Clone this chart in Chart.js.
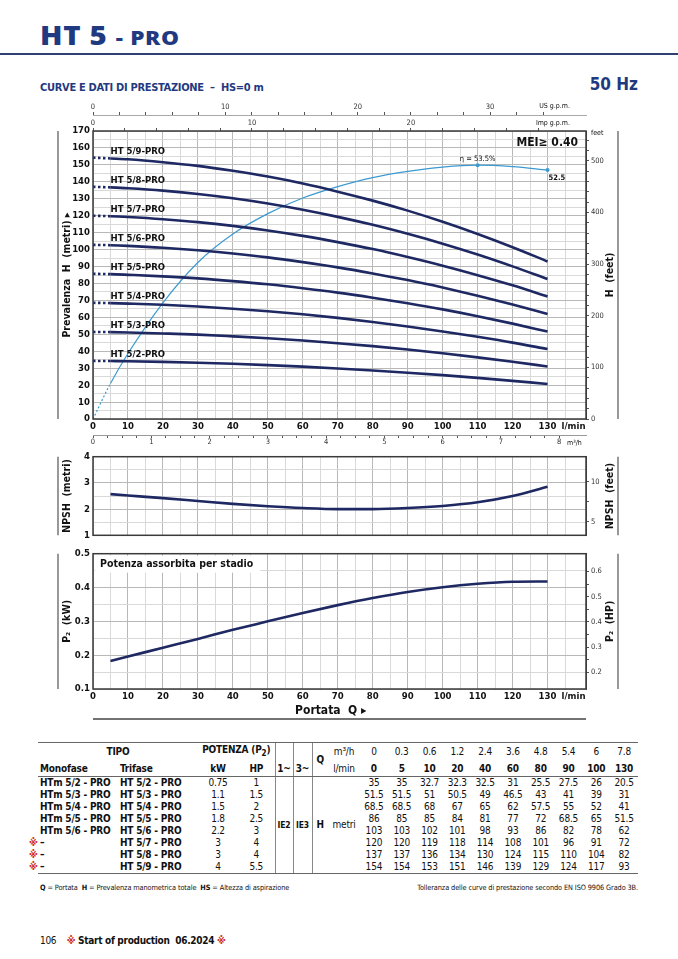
<!DOCTYPE html>
<html>
<head>
<meta charset="utf-8">
<script src="https://cdn.jsdelivr.net/npm/chart.js@4.4.0/dist/chart.umd.min.js"></script>
<style>
  body { margin: 0; width: 678px; height: 959px; background: #fff; position: relative; overflow: hidden;
         font-family: "DejaVu Sans Condensed", "Liberation Sans", sans-serif; color: #111; }
  .abs { position: absolute; }
  canvas { position: absolute; left: 0; }
  #title { left: 40px; top: 17px; color: #1f3a80; font: 800 26px "Open Sans", sans-serif; letter-spacing: 0.6px;
           transform: scaleX(1.13); transform-origin: left top; white-space: nowrap; }
  #title span { font-size: 20px; letter-spacing: 0.6px; }
  #rule { left: 0; top: 53px; width: 678px; height: 2px; background: #2f3f73; }
  #sub { left: 40px; top: 81px; color: #1f3a80; font-weight: bold; font-size: 11px; letter-spacing: -0.3px; }
  #hz { right: 40px; top: 74px; color: #1f3a80; font-weight: bold; font-size: 17px; }
  #tab { position: absolute; left: 38px; top: 742px; border-collapse: collapse; table-layout: fixed;
         font-size: 10px; letter-spacing: -0.2px; }
  #tab td, #tab th { padding: 0; height: 12px; line-height: 12px; text-align: center; white-space: nowrap; }
  #tab th { font-weight: bold; }
  #tab .l { text-align: left; padding-left: 2px; }
  #tab .b { font-weight: bold; }
  #tab tr.top td, #tab tr.top th { border-top: 1px solid #666; height: 14px; line-height: 14px; }
  #tab tr.sub td, #tab tr.sub th { border-bottom: 1px solid #666; height: 15px; line-height: 15px; }
  #tab tr.last td { border-bottom: 1px solid #666; }
  #tab .vl { border-left: 1px solid #888; }
  #tab .ast { position: relative; }
  #tab .ast i { position: absolute; left: -9px; top: 0; color: #d0302a; font-style: normal; }
  .note { font-size: 7.3px; top: 883px; letter-spacing: -0.1px; }
  #foot { left: 40px; top: 935px; font-size: 10px; letter-spacing: -0.3px; }
  #foot b { margin-left: 8px; }
  #foot em { color: #d0302a; font-style: normal; }
</style>
</head>
<body>
<div id="title" class="abs">HT 5 <span>- PRO</span></div>
<div id="rule" class="abs"></div>
<div id="sub" class="abs">CURVE E DATI DI PRESTAZIONE &nbsp;– &nbsp;HS=0 m</div>
<div id="hz" class="abs">50 Hz</div>

<canvas id="cMain" width="678" height="360" style="top:95px"></canvas>
<canvas id="cNpsh" width="678" height="96" style="top:448px"></canvas>
<canvas id="cPow" width="678" height="180" style="top:545px"></canvas>

<table id="tab"></table>
<div class="abs note" style="left:40px"><b>Q</b> = Portata &nbsp;<b>H</b> = Prevalenza manometrica totale &nbsp;<b>HS</b> = Altezza di aspirazione</div>
<div class="abs note" style="right:40px">Tolleranza delle curve di prestazione secondo EN ISO 9906 Grado 3B.</div>
<div id="foot" class="abs">106 <b><em>※</em> Start of production &nbsp;06.2024 <em>※</em></b></div>

<script>
// table flow points
var flowQ  = [0, 5, 10, 20, 40, 60, 80, 90, 100, 130];        // l/min
var flowM3 = [0, 0.3, 0.6, 1.2, 2.4, 3.6, 4.8, 5.4, 6, 7.8];   // m3/h

var models = ['HT 5/2-PRO', 'HT 5/3-PRO', 'HT 5/4-PRO', 'HT 5/5-PRO', 'HT 5/6-PRO', 'HT 5/7-PRO', 'HT 5/8-PRO', 'HT 5/9-PRO'];

// head (m) as printed in the table
var t52 = [35, 35, 32.7, 32.3, 32.5, 31, 25.5, 27.5, 26, 20.5];
var t53 = [51.5, 51.5, 51, 50.5, 49, 46.5, 43, 41, 39, 31];
var t54 = [68.5, 68.5, 68, 67, 65, 62, 57.5, 55, 52, 41];
var t55 = [86, 85, 85, 84, 81, 77, 72, 68.5, 65, 51.5];
var t56 = [103, 103, 102, 101, 98, 93, 86, 82, 78, 62];
var t57 = [120, 120, 119, 118, 114, 108, 101, 96, 91, 72];
var t58 = [137, 137, 136, 134, 130, 124, 115, 110, 104, 82];
var t59 = [154, 154, 153, 151, 146, 139, 129, 124, 117, 93];

// head curves (m) as drawn on the chart
var curveQ = [0, 5, 10, 20, 30, 40, 50, 60, 70, 80, 90, 100, 110, 120, 130];
var h52 = [34.3, 34.2, 34.1, 33.7, 33.2, 32.6, 31.8, 30.9, 29.8, 28.6, 27.3, 25.9, 24.3, 22.5, 20.7];
var h53 = [51.4, 51.3, 51.1, 50.5, 49.8, 48.8, 47.7, 46.3, 44.7, 43.0, 41.0, 38.8, 36.4, 33.8, 31.0];
var h54 = [68.6, 68.4, 68.1, 67.4, 66.4, 65.1, 63.6, 61.8, 59.7, 57.3, 54.6, 51.7, 48.5, 45.1, 41.3];
var h55 = [85.7, 85.5, 85.1, 84.2, 83.0, 81.4, 79.5, 77.2, 74.6, 71.6, 68.3, 64.7, 60.7, 56.3, 51.6];
var h56 = [102.8, 102.6, 102.2, 101.1, 99.6, 97.7, 95.4, 92.6, 89.5, 85.9, 82.0, 77.6, 72.8, 67.6, 62.0];
var h57 = [120.0, 119.7, 119.2, 117.9, 116.2, 114.0, 111.3, 108.1, 104.4, 100.3, 95.6, 90.5, 84.9, 78.9, 72.3];
var h58 = [137.1, 136.7, 136.2, 134.8, 132.8, 130.3, 127.2, 123.5, 119.3, 114.6, 109.3, 103.5, 97.1, 90.1, 82.6];
var h59 = [154.3, 153.8, 153.3, 151.6, 149.4, 146.5, 143.1, 139.0, 134.2, 128.9, 123.0, 116.4, 109.2, 101.4, 93.0];

// efficiency (%)
var effQ = [0, 5, 10, 20, 30, 40, 50, 60, 70, 80, 90, 100, 110, 120, 130];
var eff  = [0, 7.5, 13.8, 24.5, 33, 39, 43.3, 46.6, 49, 50.9, 52.2, 53.1, 53.5, 53.2, 52.5];

// NPSH (m)
var npshQ = [5, 10, 20, 30, 40, 50, 60, 70, 80, 90, 100, 110, 120, 130];
var npsh  = [2.57, 2.52, 2.42, 2.31, 2.2, 2.11, 2.04, 2.0, 2.0, 2.04, 2.12, 2.26, 2.5, 2.85];

// power per stage (kW)
var powQ = [5, 10, 20, 30, 40, 50, 60, 70, 80, 90, 100, 110, 120, 130];
var p2   = [0.183, 0.196, 0.222, 0.248, 0.275, 0.3, 0.325, 0.348, 0.369, 0.387, 0.401, 0.411, 0.417, 0.418];

// table
var monoNames = ['HTm 5/2 - PRO', 'HTm 5/3 - PRO', 'HTm 5/4 - PRO', 'HTm 5/5 - PRO', 'HTm 5/6 - PRO', '–', '–', '–'];
var triNames  = ['HT 5/2 - PRO', 'HT 5/3 - PRO', 'HT 5/4 - PRO', 'HT 5/5 - PRO', 'HT 5/6 - PRO', 'HT 5/7 - PRO', 'HT 5/8 - PRO', 'HT 5/9 - PRO'];
var kW = [0.75, 1.1, 1.5, 1.8, 2.2, 3, 3, 4];
var HP = [1, 1.5, 2, 2.5, 3, 4, 4, 5.5];
var isNew = [false, false, false, false, false, true, true, true];

var FONT = '"DejaVu Sans Condensed", "Liberation Sans", sans-serif';
var NAVY = '#1e2862';
var BLUE = '#3b9ad0';
var QMAX = 141;

Chart.defaults.font.family = FONT;
Chart.defaults.color = '#111';
Chart.defaults.animation = false;
Chart.defaults.responsive = false;
Chart.defaults.devicePixelRatio = 1;
Chart.defaults.plugins.legend.display = false;
Chart.defaults.plugins.tooltip.enabled = false;

function near(v, step) { return Math.abs(v / step - Math.round(v / step)) < 1e-6; }
function gridCol(step) {
  return function(c) { return c.tick && near(c.tick.value, step) ? '#b8b8b8' : '#d9d9d9'; };
}
function tickCol(step) {
  return function(c) { return c.tick && near(c.tick.value, step) ? '#555' : 'rgba(0,0,0,0)'; };
}
function labelEvery(step, maxLab) {
  return function(v) { return near(v, step) && v <= maxLab + 1e-6 ? String(Math.round(v * 100) / 100) : ''; };
}
function fixH(h) { return function(s) { s.height = h; }; }
function fixW(w) { return function(s) { s.width = w; }; }

function flowAxis(showLabels) {
  return {
    type: 'linear', position: 'bottom', min: 0, max: QMAX, weight: 1,
    ticks: { stepSize: 5, autoSkip: false, maxRotation: 0, padding: 2, display: showLabels,
             font: { size: 9.5, weight: 'bold' }, callback: labelEvery(10, 130) },
    grid: { color: gridCol(10), drawTicks: false },
    border: { display: false },
    afterFit: fixH(showLabels ? 16 : 0)
  };
}
function leftAxis(min, max, step, labStep, digits) {
  return {
    position: 'left', min: min, max: max,
    ticks: { stepSize: step, autoSkip: false, padding: 3, font: { size: 9.5, weight: 'bold' },
             callback: function(v) { return near(v, labStep) ? v.toFixed(digits) : ''; } },
    grid: { color: gridCol(labStep), drawTicks: false },
    border: { display: false },
    afterFit: fixW(93)
  };
}
function rightAxis(min, max, step, labStep, maxLab) {
  return {
    position: 'right', min: min, max: max,
    ticks: { stepSize: step, autoSkip: false, padding: 2, font: { size: 7.5 }, color: '#333',
             callback: function(v) { return near(v, labStep) && v <= maxLab ? String(Math.round(v * 10) / 10) : ''; } },
    grid: { drawOnChartArea: false, tickLength: 3, tickColor: tickCol(step), lineWidth: 1 },
    border: { display: true, color: '#444' },
    afterFit: fixW(92)
  };
}

function vText(c, txt, x, y) {
  c.save(); c.translate(x, y); c.rotate(-Math.PI / 2);
  c.textAlign = 'center'; c.textBaseline = 'middle'; c.fillText(txt, 0, 0); c.restore();
}
function frame(ch, leftTitle, rightTitle) {
  var c = ch.ctx, a = ch.chartArea;
  c.save();
  c.strokeStyle = '#3a3a3a'; c.lineWidth = 1.5;
  c.strokeRect(a.left, a.top, a.right - a.left, a.bottom - a.top);
  c.strokeStyle = '#555'; c.lineWidth = 1.2;
  c.beginPath(); c.moveTo(58, a.top); c.lineTo(58, a.bottom); c.moveTo(618, a.top); c.lineTo(618, a.bottom); c.stroke();
  c.fillStyle = '#111'; c.font = 'bold 10.5px ' + FONT;
  var mid = (a.top + a.bottom) / 2;
  vText(c, leftTitle, 67, mid);
  vText(c, rightTitle, 610, mid);
  c.restore();
}

// ---------- main chart: head curves ----------
var curves = [h52, h53, h54, h55, h56, h57, h58, h59];
var mainSets = curves.map(function(h, i) {
  return {
    label: models[i],
    data: curveQ.map(function(q, k) { return { x: q, y: h[k] }; }),
    borderColor: NAVY, borderWidth: 2.6, pointRadius: 0, cubicInterpolationMode: 'monotone',
    segment: { borderDash: function(s) { return s.p0DataIndex === 0 ? [2.5, 2.5] : undefined; } }
  };
});
mainSets.push({
  label: 'eta',
  yAxisID: 'yeff',
  data: effQ.map(function(q, k) { return { x: q, y: eff[k] }; }),
  borderColor: BLUE, borderWidth: 1.2, cubicInterpolationMode: 'monotone',
  pointRadius: function(c) { var q = effQ[c.dataIndex]; return (q === 110 || q === 130) ? 2 : 0; },
  pointBackgroundColor: BLUE, pointBorderWidth: 0,
  segment: { borderDash: function(s) { return s.p0DataIndex === 0 ? [2, 2] : undefined; } }
});

var mainDeco = {
  id: 'mainDeco',
  afterDraw: function(ch) {
    frame(ch, 'Prevalenza  H  (metri) ▸', 'H  (feet)');
    var c = ch.ctx, a = ch.chartArea, sx = ch.scales.x, sy = ch.scales.y, se = ch.scales.yeff;
    c.save();
    c.fillStyle = '#111';
    c.font = 'bold 9.5px ' + FONT; c.textAlign = 'left'; c.textBaseline = 'alphabetic';
    models.forEach(function(m, i) {
      c.fillText(m, sx.getPixelForValue(5), sy.getPixelForValue(curves[i][1]) - 4);
    });
    c.font = 'bold 12px ' + FONT; c.textAlign = 'right'; c.textBaseline = 'middle';
    c.fillText('MEI≥ 0.40', a.right - 8, a.top + 12);
    c.font = '7.5px ' + FONT; c.textAlign = 'center'; c.textBaseline = 'alphabetic';
    c.fillText('η = 53.5%', sx.getPixelForValue(110), se.getPixelForValue(53.5) - 4);
    c.font = 'bold 7.5px ' + FONT; c.textAlign = 'left'; c.textBaseline = 'top';
    c.fillText('52.5', sx.getPixelForValue(130) + 1, se.getPixelForValue(52.5) + 4);
    // unit captions
    c.font = '7px ' + FONT; c.textAlign = 'right'; c.textBaseline = 'middle';
    c.fillText('US g.p.m.', a.right - 16, ch.scales.xus.top + 7);
    c.fillText('Imp g.p.m.', a.right - 16, ch.scales.ximp.top + 8);
    c.textAlign = 'left';
    c.fillText('feet', a.right + 5, a.top + 2);
    c.fillText('m³/h', 567, ch.scales.xm3.top + 8);
    c.font = 'bold 9.5px ' + FONT;
    c.fillText('l/min', sx.getPixelForValue(134), a.bottom + 8);
    c.restore();
  }
};

new Chart(document.getElementById('cMain'), {
  type: 'line',
  data: { datasets: mainSets },
  options: {
    layout: { padding: { top: 4, bottom: 2, left: 0, right: 0 } },
    scales: {
      x: flowAxis(true),
      xm3: {
        type: 'linear', position: 'bottom', min: 0, max: QMAX * 0.06, weight: 2,
        ticks: { stepSize: 0.25, autoSkip: false, maxRotation: 0, padding: 0, font: { size: 7.5 }, color: '#333',
                 callback: labelEvery(1, 8) },
        grid: { drawOnChartArea: false, tickLength: 3, tickColor: tickCol(0.25) },
        border: { display: true, color: '#999' },
        afterFit: fixH(18)
      },
      ximp: {
        type: 'linear', position: 'top', min: 0, max: QMAX * 0.219969, weight: 1,
        ticks: { stepSize: 2, autoSkip: false, maxRotation: 0, padding: 0, font: { size: 7.5 }, color: '#333',
                 callback: labelEvery(10, 20) },
        grid: { drawOnChartArea: false, tickLength: 3, tickColor: tickCol(2) },
        border: { display: false },
        afterFit: fixH(16)
      },
      xus: {
        type: 'linear', position: 'top', min: 0, max: QMAX * 0.264172, weight: 2,
        ticks: { stepSize: 2, autoSkip: false, maxRotation: 0, padding: 0, font: { size: 7.5 }, color: '#333',
                 callback: labelEvery(10, 30) },
        grid: { drawOnChartArea: false, tickLength: 3, tickColor: tickCol(2) },
        border: { display: true, color: '#aaa' },
        afterFit: fixH(16)
      },
      y: leftAxis(0, 170, 5, 10, 0),
      yft: rightAxis(0, 170 * 3.28084, 20, 100, 500),
      yeff: { display: false, min: 0, max: 170 / 2.8 }
    }
  },
  plugins: [mainDeco]
});

// ---------- NPSH ----------
new Chart(document.getElementById('cNpsh'), {
  type: 'line',
  data: { datasets: [{
    data: npshQ.map(function(q, k) { return { x: q, y: npsh[k] }; }),
    borderColor: NAVY, borderWidth: 2.6, pointRadius: 0, cubicInterpolationMode: 'monotone'
  }] },
  options: {
    layout: { padding: { top: 8, bottom: 5 } },
    scales: {
      x: flowAxis(false),
      y: leftAxis(1, 4, 0.5, 1, 0),
      yft: rightAxis(1 * 3.28084, 4 * 3.28084, 2.5, 5, 10)
    }
  },
  plugins: [{ id: 'npshDeco', afterDraw: function(ch) { frame(ch, 'NPSH  (metri)', 'NPSH  (feet)'); } }]
});

// ---------- Power ----------
var powDeco = {
  id: 'powDeco',
  beforeDatasetsDraw: function(ch) {
    var c = ch.ctx, a = ch.chartArea;
    c.save();
    c.font = 'bold 10.5px ' + FONT;
    var txt = 'Potenza assorbita per stadio';
    var w = c.measureText(txt).width;
    c.fillStyle = '#fff';
    c.fillRect(a.left + 2, a.top + 2, w + 12, 17);
    c.fillStyle = '#111'; c.textBaseline = 'middle'; c.textAlign = 'left';
    c.fillText(txt, a.left + 7, a.top + 11);
    c.restore();
  },
  afterDraw: function(ch) {
    frame(ch, 'P₂  (kW)', 'P₂  (HP)');
    var c = ch.ctx, a = ch.chartArea, sx = ch.scales.x;
    c.save();
    c.fillStyle = '#111'; c.textBaseline = 'middle';
    c.font = 'bold 9.5px ' + FONT; c.textAlign = 'left';
    c.fillText('l/min', sx.getPixelForValue(134), a.bottom + 8);
    c.font = 'bold 12px ' + FONT; c.textAlign = 'center';
    c.fillText('Portata  Q ▸', sx.getPixelForValue(68), a.bottom + 22);
    c.strokeStyle = '#444'; c.lineWidth = 1.5;
    c.beginPath(); c.moveTo(a.left, a.bottom + 30); c.lineTo(a.right, a.bottom + 30); c.stroke();
    c.restore();
  }
};

new Chart(document.getElementById('cPow'), {
  type: 'line',
  data: { datasets: [{
    data: powQ.map(function(q, k) { return { x: q, y: p2[k] }; }),
    borderColor: NAVY, borderWidth: 2.6, pointRadius: 0, cubicInterpolationMode: 'monotone'
  }] },
  options: {
    layout: { padding: { top: 6, bottom: 20 } },
    scales: {
      x: flowAxis(true),
      y: leftAxis(0.1, 0.5, 0.05, 0.1, 1),
      yhp: rightAxis(0.1 * 1.34102, 0.5 * 1.34102, 0.05, 0.1, 0.6)
    }
  },
  plugins: [powDeco]
});

// ---------- table ----------
(function() {
  var heads = [t52, t53, t54, t55, t56, t57, t58, t59];
  var cols = [80, 80, 40, 37, 18, 19, 16, 32];
  var html = '<colgroup>';
  cols.forEach(function(w) { html += '<col style="width:' + w + 'px">'; });
  flowQ.forEach(function() { html += '<col style="width:27.8px">'; });
  html += '</colgroup>';
  html += '<tr class="top"><th colspan="2">TIPO</th><th colspan="2">POTENZA (P<sub style="font-size:8px">2</sub>)</th>' +
          '<td class="vl"></td><td class="vl"></td><th class="vl" rowspan="2" style="border-bottom:1px solid #666">Q</th><td>m³/h</td>';
  flowM3.forEach(function(v) { html += '<td>' + v + '</td>'; });
  html += '</tr><tr class="sub"><th class="l">Monofase</th><th class="l">Trifase</th><th>kW</th><th>HP</th>' +
          '<th class="vl">1~</th><th class="vl">3~</th><td>l/min</td>';
  flowQ.forEach(function(v) { html += '<th>' + v + '</th>'; });
  html += '</tr>';
  triNames.forEach(function(t, i) {
    html += '<tr' + (i === 7 ? ' class="last"' : '') + '>';
    html += '<td class="l b ast">' + (isNew[i] ? '<i>※</i>' : '') + monoNames[i] + '</td>';
    html += '<td class="l b">' + t + '</td><td>' + kW[i] + '</td><td>' + HP[i] + '</td>';
    if (i === 0) {
      html += '<td class="vl b" rowspan="8" style="font-size:8.5px;border-bottom:1px solid #666">IE2</td>' +
              '<td class="vl b" rowspan="8" style="font-size:8.5px;border-bottom:1px solid #666">IE3</td>' +
              '<td class="vl b" rowspan="8" style="border-bottom:1px solid #666">H</td>' +
              '<td rowspan="8" style="border-bottom:1px solid #666">metri</td>';
    }
    heads[i].forEach(function(v) { html += '<td>' + v + '</td>'; });
    html += '</tr>';
  });
  document.getElementById('tab').innerHTML = html;
})();
</script>
</body>
</html>
